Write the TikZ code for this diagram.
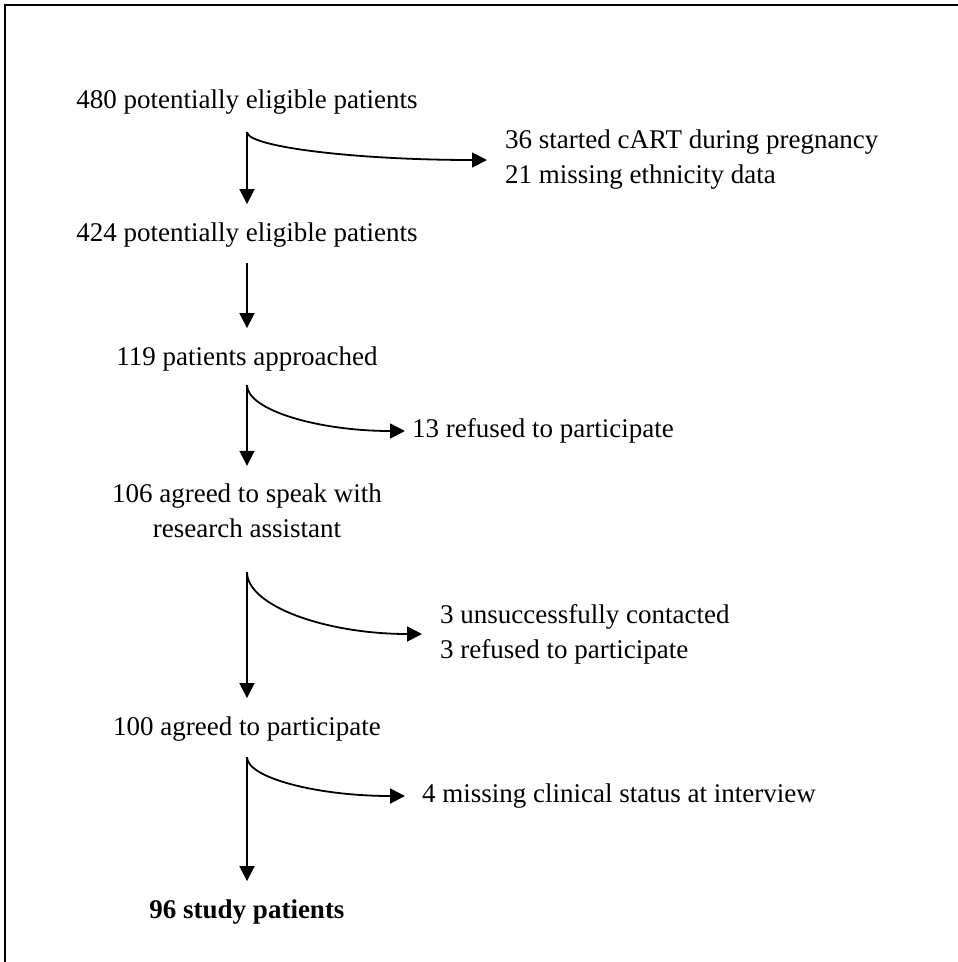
\documentclass[tikz,border=0pt]{standalone}
\usepackage{fontspec}
\setmainfont{Liberation Serif}
\usetikzlibrary{arrows.meta}

\begin{document}
\begin{tikzpicture}[x=1pt, y=-1pt,
        txt/.style={inner sep=3pt, font=\fontsize{27}{35}\selectfont},
        stage/.style={txt, anchor=base},
        excl/.style={txt, anchor=west, align=left},
        flow/.style={line width=1.8pt, -{Triangle[length=15pt,width=15pt]}, shorten >=15pt},
        branch/.style={line width=1.8pt, -{Triangle[length=15pt,width=15pt]}}]
        \useasboundingbox (0,0) rectangle (958,962);
        % Frame
        \draw[line width=1.6pt] (5,962) -- (5,5) -- (958,5);

        % Nodes
        \node[stage] (n480) at (247,108) {480 potentially eligible patients};
        \node[excl] (excl1) at (502,160) {36 started cART during pregnancy\\21 missing ethnicity data};
        \node[stage] (n424) at (247,241) {424 potentially eligible patients};
        \node[stage] (n119) at (247,365) {119 patients approached};
        \node[excl] (excl2) at (409,431) {13 refused to participate};
        \node[txt, align=center] (n106) at (247,511) {106 agreed to speak with\\research assistant};
        \node[excl] (excl3) at (437,634) {3 unsuccessfully contacted\\3 refused to participate};
        \node[stage] (n100) at (247,735) {100 agreed to participate};
        \node[excl] (excl4) at (419,796) {4 missing clinical status at interview};
        \node[stage, font=\fontsize{27}{35}\selectfont\bfseries] (n96) at (247,918) {96 study patients};

        % Split points
        \coordinate (split1) at (247,132);
        \coordinate (split2) at (247,263);
        \coordinate (split3) at (247,385);
        \coordinate (split4) at (247,572);
        \coordinate (split5) at (247,757);

        % Arrows
        \draw[flow] (split1) -- (n424);
        \draw[flow] (split2) -- (n119);
        \draw[flow] (split3) -- (n106);
        \draw[flow] (split4) -- (n100);
        \draw[flow] (split5) -- (n96);
        \draw[branch] (split1) .. controls +(0,15) and +(-130,0) .. ([xshift=-15pt]excl1.west);
        \draw[branch] (split3) .. controls +(0,25) and +(-87,0) .. ([xshift=-4pt]excl2.west);
        \draw[branch] (split4) .. controls +(0,34) and +(-96,0) .. ([xshift=-15pt]excl3.west);
        \draw[branch] (split5) .. controls +(0,21) and +(-87,0) .. ([xshift=-14pt]excl4.west);
\end{tikzpicture}
\end{document}
